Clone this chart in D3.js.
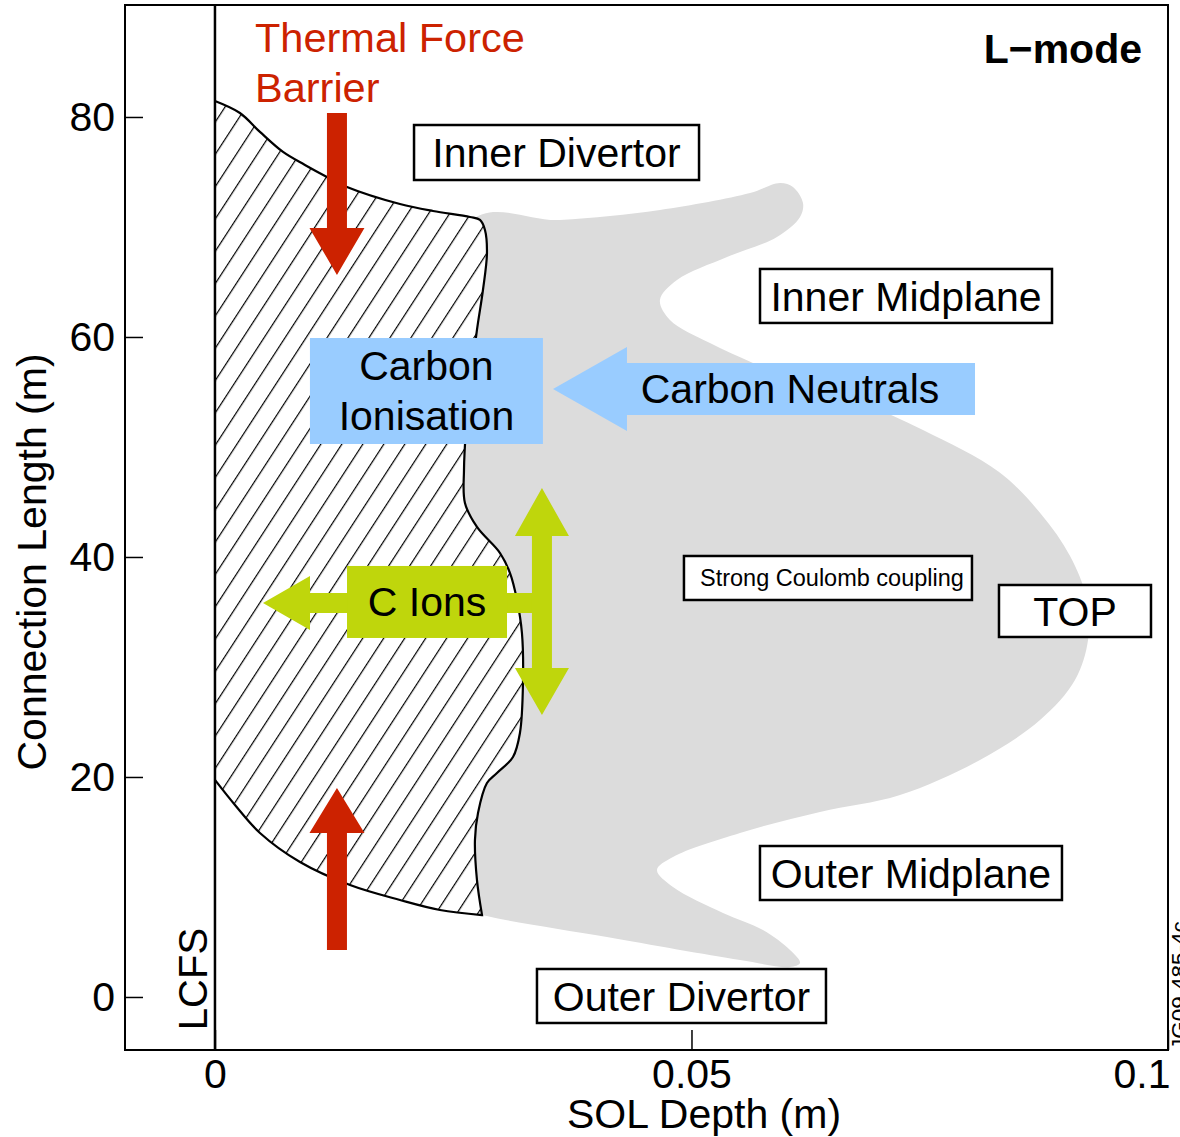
<!DOCTYPE html>
<html>
<head>
<meta charset="utf-8">
<script src="https://cdn.jsdelivr.net/npm/d3@7"></script>
<style>
  body { margin: 0; background: #fff; }
  text { font-family: "Liberation Sans", Arial, Helvetica, sans-serif; }
</style>
</head>
<body>
<script>
// axis ticks
var xTicks = [0, 0.05, 0.1];
var yTicks = [0, 20, 40, 60, 80];

// impurity cloud (SOL depth m, connection length m)
var cloudRegion = [
  [0.02676, 70.45], [0.03620, 70.64], [0.04669, 71.55], [0.05614, 73.09], [0.05929, 74.0],
  [0.06065, 73.64], [0.06170, 72.18], [0.06139, 70.91], [0.05897, 69.09], [0.05373, 67.27],
  [0.04848, 65.18], [0.04669, 63.36], [0.04774, 61.55], [0.05194, 59.45], [0.05645, 57.64],
  [0.06139, 55.91], [0.06768, 54.09], [0.07429, 51.55], [0.08227, 47.73], [0.08667, 43.91],
  [0.08972, 40.09], [0.09150, 36.09], [0.09161, 32.45], [0.09024, 28.82], [0.08657, 25.18],
  [0.08027, 21.55], [0.07188, 18.36], [0.06348, 16.82], [0.05509, 14.91], [0.04806, 12.73],
  [0.04638, 11.55], [0.04806, 10.0], [0.05331, 7.64], [0.05750, 6.09], [0.06034, 4.27],
  [0.06139, 3.09], [0.06034, 2.73], [0.05509, 3.36], [0.04113, 5.45], [0.02812, 7.45],
  [0.02676, 7.91]
];

// thermal force barrier region: outer edge, then lower edge
var barrierEdge = [
  [0, 81.45], [0.00262, 80.36], [0.00472, 78.64], [0.00714, 76.82], [0.00944, 75.64],
  [0.01175, 74.55], [0.01385, 73.64], [0.01941, 72.09], [0.02288, 71.45], [0.02676, 70.91],
  [0.02781, 70.64], [0.02833, 69.73], [0.02854, 67.64], [0.02812, 64.27], [0.02749, 60.64],
  [0.02686, 56.09], [0.02634, 51.55], [0.02613, 47.91], [0.02623, 44.91], [0.02749, 42.73],
  [0.02991, 40.36], [0.03095, 38.55], [0.03169, 36.09], [0.03221, 33.09], [0.03232, 28.55],
  [0.03200, 24.0], [0.03127, 21.82], [0.02959, 20.36], [0.02854, 19.45], [0.02760, 16.73],
  [0.02728, 14.27], [0.02749, 10.64], [0.02802, 7.45]
];
var barrierBottom = [
  [0.02802, 7.45], [0.02361, 7.91], [0.01941, 8.82], [0.01417, 10.18], [0.00892, 12.27],
  [0.00472, 14.91], [0.00210, 17.45], [0, 19.73]
];

// labelled boxes: text, centre (data units)
var boxLabels = ["Inner Divertor", "Inner Midplane", "Strong Coulomb coupling", "TOP", "Outer Midplane", "Outer Divertor"];
var boxCentres = [[0.03584, 76.77], [0.07251, 63.73], [0.06432, 38.09], [0.09024, 35.09], [0.07303, 11.27], [0.04895, 0.09]];

var W = 1180, H = 1137;
var pL = 125, pR = 1168, pT = 5, pB = 1050;

var x = d3.scaleLinear().domain([-0.00944, 0.1]).range([pL, pR]);
var y = d3.scaleLinear().domain([-4.82, 90.18]).range([pB, pT]);

var svg = d3.select("body").append("svg")
    .attr("width", W)
    .attr("height", H);

var defs = svg.append("defs");
defs.append("pattern")
    .attr("id", "hatch")
    .attr("patternUnits", "userSpaceOnUse")
    .attr("width", 17.6)
    .attr("height", 20)
    .attr("patternTransform", "rotate(33)")
  .append("line")
    .attr("x1", 0.6).attr("y1", 0)
    .attr("x2", 0.6).attr("y2", 20)
    .attr("stroke", "#000")
    .attr("stroke-width", 1.2);

defs.append("clipPath").attr("id", "plot")
  .append("rect")
    .attr("x", pL).attr("y", pT)
    .attr("width", pR - pL).attr("height", pB - pT);

var g = svg.append("g").attr("clip-path", "url(#plot)");

// grey cloud
var closedLine = d3.line()
    .x(function(d){ return x(d[0]); })
    .y(function(d){ return y(d[1]); })
    .curve(d3.curveCatmullRomClosed);
g.append("path")
    .attr("d", closedLine(cloudRegion))
    .attr("fill", "#dcdcdc");

// hatched barrier region
var openLine = d3.line()
    .x(function(d){ return x(d[0]); })
    .y(function(d){ return y(d[1]); })
    .curve(d3.curveCatmullRom);
var hatchPath = openLine(barrierEdge) + openLine(barrierBottom).replace(/^M/, "L") + "Z";
g.append("path").attr("d", hatchPath).attr("fill", "#fff");
g.append("path").attr("d", hatchPath).attr("fill", "url(#hatch)");
g.append("path")
    .attr("d", openLine(barrierEdge) + openLine(barrierBottom).replace(/^M/, "L"))
    .attr("fill", "none")
    .attr("stroke", "#000")
    .attr("stroke-width", 2.2);

// LCFS line
svg.append("line")
    .attr("x1", x(0)).attr("x2", x(0))
    .attr("y1", pT).attr("y2", pB)
    .attr("stroke", "#000")
    .attr("stroke-width", 2.5);

// axes
var yAxis = d3.axisLeft(y).tickValues(yTicks).tickSize(-18).tickPadding(10).tickFormat(d3.format("d"));
var gy = svg.append("g").attr("transform", "translate(" + pL + ",0)").call(yAxis);
var xAxis = d3.axisBottom(x).tickValues(xTicks).tickSize(-20).tickPadding(9)
    .tickFormat(function(d){ return d === 0 ? "0" : String(d); });
var gx = svg.append("g").attr("transform", "translate(0," + pB + ")").call(xAxis);
[gx, gy].forEach(function(a){
  a.select(".domain").remove();
  a.selectAll("line").attr("stroke", "#000").attr("stroke-width", 1.5);
  a.selectAll("text").attr("font-size", 41).attr("fill", "#000")
      .style("font-family", "'Liberation Sans', Arial, sans-serif");
});
gx.selectAll(".tick").filter(function(d){ return d === 0.1; })
    .select("text").attr("text-anchor", "end").attr("x", 2);

svg.append("rect")
    .attr("x", pL).attr("y", pT)
    .attr("width", pR - pL).attr("height", pB - pT)
    .attr("fill", "none")
    .attr("stroke", "#000")
    .attr("stroke-width", 2);

// axis titles
svg.append("text")
    .attr("x", 704).attr("y", 1128)
    .attr("text-anchor", "middle")
    .attr("font-size", 41)
    .text("SOL Depth (m)");
svg.append("text")
    .attr("transform", "translate(46,562) rotate(-90)")
    .attr("text-anchor", "middle")
    .attr("font-size", 41)
    .text("Connection Length (m)");

// arrow polygon helper (pixel space)
function arrowPoints(x1, y1, x2, y2, shaft, head, headLen) {
  var dx = x2 - x1, dy = y2 - y1, len = Math.sqrt(dx*dx + dy*dy);
  var ux = dx / len, uy = dy / len, px = -uy, py = ux;
  var bx = x2 - ux * headLen, by = y2 - uy * headLen;
  var s = shaft / 2, h = head / 2;
  return [
    [x1 + px*s, y1 + py*s], [bx + px*s, by + py*s], [bx + px*h, by + py*h],
    [x2, y2],
    [bx - px*h, by - py*h], [bx - px*s, by - py*s], [x1 - px*s, y1 - py*s]
  ].map(function(p){ return p.join(","); }).join(" ");
}

// red thermal force arrows
var red = "#cc2200";
svg.append("polygon")
    .attr("points", arrowPoints(x(0.0128), y(80.36), x(0.0128), y(65.64), 20, 55, 47))
    .attr("fill", red);
svg.append("polygon")
    .attr("points", arrowPoints(x(0.0128), y(4.27), x(0.0128), y(19.0), 20, 55, 45))
    .attr("fill", red);
svg.append("text").attr("x", 255).attr("y", 52).attr("font-size", 41.5).attr("fill", red).text("Thermal Force");
svg.append("text").attr("x", 255).attr("y", 102).attr("font-size", 41.5).attr("fill", red).text("Barrier");

svg.append("text")
    .attr("x", 1142).attr("y", 63)
    .attr("text-anchor", "end")
    .attr("font-size", 41)
    .attr("font-weight", "bold")
    .text("L\u2212mode");

// carbon neutrals arrow and ionisation box
var blue = "#99ccff";
var cnY = y(55.27);
svg.append("polygon")
    .attr("points", [[x(0.07975), cnY - 26], [x(0.04323), cnY - 26], [x(0.04323), cnY - 42], [x(0.03547), cnY],
        [x(0.04323), cnY + 42], [x(0.04323), cnY + 26], [x(0.07975), cnY + 26]].map(function(p){ return p.join(","); }).join(" "))
    .attr("fill", blue);
svg.append("text")
    .attr("x", 790).attr("y", cnY + 14)
    .attr("text-anchor", "middle").attr("font-size", 41)
    .text("Carbon Neutrals");
var ciX = x(0.02219), ciY = y(55.09);
svg.append("rect")
    .attr("x", ciX - 116.5).attr("y", ciY - 53)
    .attr("width", 233).attr("height", 106)
    .attr("fill", blue);
svg.append("text").attr("x", ciX).attr("y", ciY - 11).attr("text-anchor", "middle").attr("font-size", 41).text("Carbon");
svg.append("text").attr("x", ciX).attr("y", ciY + 39).attr("text-anchor", "middle").attr("font-size", 41).text("Ionisation");

// C ions arrows
var green = "#bfd60c";
var ciony = y(35.82);
svg.append("polygon")
    .attr("points", arrowPoints(x(0.0345), ciony, x(0.00504), ciony, 20, 54, 47))
    .attr("fill", green);
svg.append("polygon")
    .attr("points", arrowPoints(x(0.03431), y(36), x(0.03431), y(46.27), 20, 54, 48))
    .attr("fill", green);
svg.append("polygon")
    .attr("points", arrowPoints(x(0.03431), y(36), x(0.03431), y(25.64), 20, 54, 47))
    .attr("fill", green);
var cX = x(0.02225), cY = y(35.91);
svg.append("rect")
    .attr("x", cX - 80).attr("y", cY - 36)
    .attr("width", 160).attr("height", 72)
    .attr("fill", green);
svg.append("text").attr("x", cX).attr("y", cY + 14).attr("text-anchor", "middle").attr("font-size", 41).text("C Ions");

// labelled boxes
var boxSizes = [[285, 55], [292, 54], [288, 44], [152, 52], [302, 54], [289, 54]];
var boxFont = [41, 41, 23.5, 41, 41, 41];
boxLabels.forEach(function(label, i){
  var cx = x(boxCentres[i][0]), cy = y(boxCentres[i][1]);
  var w = boxSizes[i][0], h = boxSizes[i][1];
  svg.append("rect")
      .attr("x", cx - w/2).attr("y", cy - h/2)
      .attr("width", w).attr("height", h)
      .attr("fill", "#fff")
      .attr("stroke", "#000")
      .attr("stroke-width", 2.5);
  svg.append("text")
      .attr("x", cx + (i === 2 ? 4 : 0)).attr("y", cy + boxFont[i] * 0.36)
      .attr("text-anchor", "middle")
      .attr("font-size", boxFont[i])
      .text(label);
});

// LCFS label
svg.append("text")
    .attr("transform", "translate(207,979) rotate(-90)")
    .attr("text-anchor", "middle")
    .attr("font-size", 40)
    .text("LCFS");

// figure code on right edge
svg.append("text")
    .attr("transform", "translate(1187,1050) rotate(-90)")
    .attr("font-size", 22.5)
    .text("JG09.485-4c");
</script>
</body>
</html>
